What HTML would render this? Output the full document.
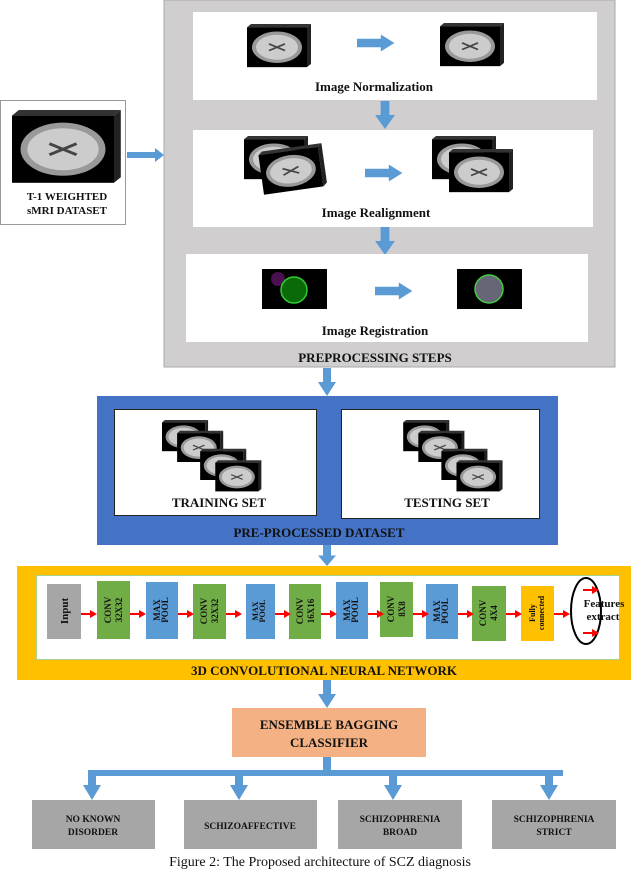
<!DOCTYPE html><html><head><style>body{margin:0;background:#fff}svg{display:block}text{font-family:"Liberation Serif",serif;font-weight:bold;fill:#111}</style></head><body>
<svg width="640" height="872" viewBox="0 0 640 872" xmlns="http://www.w3.org/2000/svg">
<defs>
<g id="br"><polygon points="0,4 4,0 64,0 60,4" fill="#333"/><polygon points="60,4 64,0 64,48 60,52" fill="#222"/><rect x="0" y="4" width="60" height="48" fill="#000"/><ellipse cx="30" cy="28" rx="25" ry="19" fill="#999"/><ellipse cx="30" cy="28" rx="21" ry="15" fill="#ccc"/><path d="M22 24 L30 28 L22 32 M38 24 L30 28 L38 32" stroke="#444" stroke-width="2" fill="none"/></g>
<g id="ar"><polygon points="0,-2.5 14,-2.5 14,-5 22,0 14,5 14,2.5 0,2.5" fill="#5b9bd5"/></g>
<g id="ad"><polygon points="-4,0 4,0 4,10 9,10 0,20 -9,10 -4,10" fill="#5b9bd5"/></g>
<g id="ra"><line x1="0" y1="0" x2="10" y2="0" stroke="#f00" stroke-width="2"/><polygon points="9,-4 16,0 9,4" fill="#f00"/></g>
</defs>
<rect x="0.5" y="100.5" width="125" height="124" fill="#fff" stroke="#999"/>
<use href="#br" transform="translate(12,110) scale(1.7,1.4)"/>
<text x="67" y="200" font-size="11" text-anchor="middle">T-1 WEIGHTED</text>
<text x="67" y="214" font-size="11" text-anchor="middle">sMRI DATASET</text>
<polygon points="127,152 155,152 155,148 164,155 155,162 155,158 127,158" fill="#5b9bd5"/>
<rect x="164" y="0" width="451" height="367" fill="#d0cece" stroke="#aaa"/>
<rect x="193" y="12" width="404" height="88" fill="#fff"/>
<use href="#br" transform="translate(247,24) scale(1,0.83)"/>
<use href="#ar" transform="translate(357,43) scale(1.7)"/>
<use href="#br" transform="translate(440,23) scale(1,0.83)"/>
<text x="374" y="91" font-size="13" text-anchor="middle">Image Normalization</text>
<use href="#ad" transform="translate(385,101) scale(1.1,1.4)"/>
<rect x="193" y="130" width="400" height="97" fill="#fff"/>
<use href="#br" transform="translate(244,136) scale(1,0.83)"/>
<use href="#br" transform="translate(258,152) rotate(-8) scale(1,0.83)"/>
<use href="#ar" transform="translate(365,173) scale(1.7)"/>
<use href="#br" transform="translate(432,136) scale(1,0.83)"/>
<use href="#br" transform="translate(449,149) scale(1,0.83)"/>
<text x="376" y="217" font-size="13" text-anchor="middle">Image Realignment</text>
<use href="#ad" transform="translate(385,227) scale(1.1,1.4)"/>
<rect x="186" y="254" width="402" height="88" fill="#fff"/>
<rect x="262" y="269" width="65" height="40" fill="#000"/>
<circle cx="278" cy="279" r="7" fill="#4b1050"/>
<circle cx="294" cy="290" r="13" fill="#0a6a0a" stroke="#3c3" stroke-width="1.5"/>
<use href="#ar" transform="translate(375,291) scale(1.7)"/>
<rect x="457" y="269" width="65" height="40" fill="#000"/>
<circle cx="489" cy="289" r="14" fill="#667" stroke="#4c4" stroke-width="1.5"/>
<text x="375" y="335" font-size="13" text-anchor="middle">Image Registration</text>
<text x="375" y="362" font-size="13" text-anchor="middle">PREPROCESSING STEPS</text>
<use href="#ad" transform="translate(327,368) scale(1,1.4)"/>
<rect x="97" y="396" width="461" height="149" fill="#4472c4"/>
<rect x="114.5" y="409.5" width="202" height="106" fill="#fff" stroke="#222"/>
<rect x="341.5" y="409.5" width="198" height="109" fill="#fff" stroke="#222"/>
<g transform="scale(0.72,0.6)">
<use href="#br" transform="translate(225,700)"/><use href="#br" transform="translate(246,718)"/><use href="#br" transform="translate(278,748)"/><use href="#br" transform="translate(299,767)"/>
<use href="#br" transform="translate(560,700)"/><use href="#br" transform="translate(581,718)"/><use href="#br" transform="translate(613,748)"/><use href="#br" transform="translate(634,767)"/>
</g>
<text x="219" y="507" font-size="13" text-anchor="middle">TRAINING SET</text>
<text x="447" y="507" font-size="13" text-anchor="middle">TESTING SET</text>
<text x="319" y="537" font-size="13" text-anchor="middle">PRE-PROCESSED DATASET</text>
<use href="#ad" transform="translate(327,545) scale(1,1.05)"/>
<rect x="17" y="566" width="614" height="114" fill="#ffc000"/>
<rect x="36.5" y="575.5" width="583" height="84" fill="#fff" stroke="#a9d18e"/>
<rect x="47" y="584" width="34" height="55" fill="#a6a6a6"/>
<rect x="97" y="581" width="33" height="58" fill="#70ad47"/>
<rect x="146" y="582" width="32" height="57" fill="#5b9bd5"/>
<rect x="193" y="584" width="33" height="55" fill="#70ad47"/>
<rect x="246" y="584" width="29" height="55" fill="#5b9bd5"/>
<rect x="289" y="584" width="32" height="55" fill="#70ad47"/>
<rect x="336" y="582" width="32" height="57" fill="#5b9bd5"/>
<rect x="380" y="582" width="33" height="55" fill="#70ad47"/>
<rect x="426" y="584" width="32" height="55" fill="#5b9bd5"/>
<rect x="472" y="586" width="34" height="55" fill="#70ad47"/>
<rect x="521" y="586" width="33" height="55" fill="#ffc000"/>
<g font-size="9">
<text transform="translate(68,611) rotate(-90)" text-anchor="middle" font-size="11" fill="#333">Input</text>
<text transform="translate(111,610) rotate(-90)" text-anchor="middle">CONV</text><text transform="translate(122,610) rotate(-90)" text-anchor="middle">32X32</text>
<text transform="translate(160,610) rotate(-90)" text-anchor="middle">MAX</text><text transform="translate(168,610) rotate(-90)" text-anchor="middle">POOL</text>
<text transform="translate(207,611) rotate(-90)" text-anchor="middle">CONV</text><text transform="translate(218,611) rotate(-90)" text-anchor="middle">32X32</text>
<text transform="translate(258,611) rotate(-90)" text-anchor="middle" font-size="8">MAX</text><text transform="translate(265,611) rotate(-90)" text-anchor="middle" font-size="8">POOL</text>
<text transform="translate(303,611) rotate(-90)" text-anchor="middle">CONV</text><text transform="translate(314,611) rotate(-90)" text-anchor="middle">16X16</text>
<text transform="translate(350,610) rotate(-90)" text-anchor="middle">MAX</text><text transform="translate(358,610) rotate(-90)" text-anchor="middle">POOL</text>
<text transform="translate(394,609) rotate(-90)" text-anchor="middle">CONV</text><text transform="translate(405,609) rotate(-90)" text-anchor="middle">8X8</text>
<text transform="translate(440,611) rotate(-90)" text-anchor="middle">MAX</text><text transform="translate(448,611) rotate(-90)" text-anchor="middle">POOL</text>
<text transform="translate(486,613) rotate(-90)" text-anchor="middle">CONV</text><text transform="translate(497,613) rotate(-90)" text-anchor="middle">4X4</text>
<text transform="translate(535,613) rotate(-90)" text-anchor="middle" font-size="8">Fully</text><text transform="translate(544,613) rotate(-90)" text-anchor="middle" font-size="8">connected</text>
</g>
<use href="#ra" transform="translate(81,614)"/><use href="#ra" transform="translate(130,614)"/><use href="#ra" transform="translate(178,614)"/><use href="#ra" transform="translate(226,614)"/><use href="#ra" transform="translate(275,614)"/><use href="#ra" transform="translate(321,614)"/><use href="#ra" transform="translate(368,614)"/><use href="#ra" transform="translate(413,614)"/><use href="#ra" transform="translate(458,614)"/><use href="#ra" transform="translate(506,614)"/><use href="#ra" transform="translate(554,614)"/>
<ellipse cx="586" cy="611" rx="15" ry="33" fill="none" stroke="#000" stroke-width="2"/>
<use href="#ra" transform="translate(583,590)"/><use href="#ra" transform="translate(583,633)"/>
<text x="604" y="607" font-size="11" text-anchor="middle">Features</text>
<text x="603" y="620" font-size="11" text-anchor="middle">extract</text>
<text x="324" y="675" font-size="13" text-anchor="middle">3D CONVOLUTIONAL NEURAL NETWORK</text>
<use href="#ad" transform="translate(327,680) scale(1,1.4)"/>
<rect x="232" y="708" width="194" height="49" fill="#f4b183"/>
<text x="329" y="729" font-size="13" text-anchor="middle">ENSEMBLE BAGGING</text>
<text x="329" y="747" font-size="13" text-anchor="middle">CLASSIFIER</text>
<rect x="323" y="757" width="8" height="16" fill="#5b9bd5"/>
<rect x="89" y="770" width="474" height="6" fill="#5b9bd5"/>
<use href="#ad" transform="translate(92,770) scale(1,1.5)"/><use href="#ad" transform="translate(239,770) scale(1,1.5)"/><use href="#ad" transform="translate(393,770) scale(1,1.5)"/><use href="#ad" transform="translate(549,770) scale(1,1.5)"/>
<g fill="#a6a6a6"><rect x="32" y="800" width="123" height="49"/><rect x="184" y="800" width="133" height="49"/><rect x="338" y="800" width="124" height="49"/><rect x="492" y="800" width="124" height="49"/></g>
<g font-size="9.5" text-anchor="middle">
<text x="93" y="822">NO KNOWN</text><text x="93" y="835">DISORDER</text>
<text x="250" y="829">SCHIZOAFFECTIVE</text>
<text x="400" y="822">SCHIZOPHRENIA</text><text x="400" y="835">BROAD</text>
<text x="554" y="822">SCHIZOPHRENIA</text><text x="554" y="835">STRICT</text>
</g>
<text x="320" y="866" font-size="14" text-anchor="middle" style="font-weight:normal">Figure 2: The Proposed architecture of SCZ diagnosis</text>
</svg></body></html>
